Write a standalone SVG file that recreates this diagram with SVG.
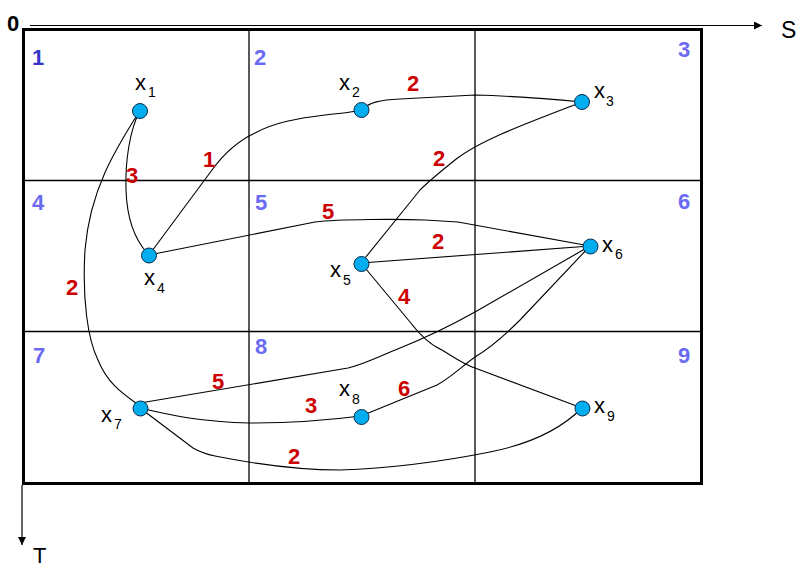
<svg xmlns="http://www.w3.org/2000/svg" width="798" height="567" viewBox="0 0 798 567">
<defs>
<marker id="arr" viewBox="0 0 10 10" refX="10" refY="5" markerWidth="8" markerHeight="8" markerUnits="userSpaceOnUse" orient="auto">
<path d="M0,0 L10,5 L0,10 z" fill="#000"/>
</marker>
<style>
.grid{stroke:#000;stroke-width:1.3;fill:none}
.frame{stroke:#000;stroke-width:3;fill:none}
.axis{stroke:#000;stroke-width:1.2;fill:none}
.edge{stroke:#000;stroke-width:1.1;fill:none}
.node{fill:#00AEEF;stroke:#0A2A4A;stroke-width:1}
.lx{font-family:"Liberation Sans",Arial,sans-serif;font-size:22px;fill:#000}
.ls{font-family:"Liberation Sans",Arial,sans-serif;font-size:14px;fill:#000}
.cell{font-family:"Liberation Sans",Arial,sans-serif;font-size:22px;font-weight:bold;fill:#6A6AF4}
.w{font-family:"Liberation Sans",Arial,sans-serif;font-size:22px;font-weight:bold;fill:#CC0000}
.ax{font-family:"Liberation Sans",Arial,sans-serif;font-size:23px;fill:#000}
</style>
</defs>
<rect width="798" height="567" fill="#fff"/>
<g id="grid">
<line class="grid" x1="249" y1="29" x2="249" y2="483"/>
<line class="grid" x1="475" y1="29" x2="475" y2="483"/>
<line class="grid" x1="23" y1="180.5" x2="702" y2="180.5"/>
<line class="grid" x1="23" y1="331.5" x2="702" y2="331.5"/>
<rect class="frame" x="23.5" y="29.5" width="678" height="454"/>
</g>
<g id="axes">
<line class="axis" x1="30" y1="25.5" x2="762" y2="25.5" marker-end="url(#arr)"/>
<line class="axis" x1="22" y1="485" x2="22" y2="545" marker-end="url(#arr)"/>
<text class="ax" x="7" y="31" style="font-weight:bold;font-size:22px">0</text>
<text class="ax" x="781" y="38">S</text>
<text class="ax" x="33" y="563" style="font-size:22px">T</text>
</g>
<g id="cells">
<text class="cell" x="32" y="65" style="fill:#3535C8">1</text>
<text class="cell" x="254" y="65">2</text>
<text class="cell" x="678" y="57">3</text>
<text class="cell" x="32" y="210">4</text>
<text class="cell" x="255" y="210">5</text>
<text class="cell" x="678" y="209">6</text>
<text class="cell" x="33" y="363">7</text>
<text class="cell" x="255" y="354">8</text>
<text class="cell" x="678" y="363">9</text>
</g>
<g id="connectors">
<path class="edge" d="M140,110 C130,130 125,160 126,190 C127,220 135,240 148,254"/>
<path class="edge" d="M139,112 C115,150 90,190 85,250 C82,300 88,340 98,360 C108,385 125,395 140,406"/>
<path class="edge" d="M149,255 L212,170 C225,152 240,140 255,133 C275,122 300,118 325,115 C340,113 350,113 361,110"/>
<path class="edge" d="M361,110 C370,102 380,100 400,99 L475,95 C510,96 550,99 582,102"/>
<path class="edge" d="M582,102 C530,122 480,140 455,160 C440,172 430,180 420,190 L361,263"/>
<path class="edge" d="M149,255 L315,222 C340,219 400,219 425,220 L458,222 L590,246"/>
<line class="edge" x1="361" y1="263" x2="590" y2="246"/>
<path class="edge" d="M361,263 L410,322 C420,335 430,345 442,350 C455,358 465,365 475,368 L582,408"/>
<path class="edge" d="M590,246 L475,312 C450,326 420,340 400,348 C380,356 365,364 348,368 L140,403"/>
<path class="edge" d="M590,246 L520,320 C505,335 490,348 475,357 C460,368 450,378 437,385 L361,416"/>
<path class="edge" d="M140,408 C170,415 200,422 250,423 C300,423 330,420 361,416"/>
<path class="edge" d="M140,408 L193,448 C200,452 205,454 215,456 C260,465 300,470 340,470 C400,468 450,460 490,452 C530,444 560,430 582,408"/>
</g>
<g id="weights">
<text class="w" x="407" y="91">2</text>
<text class="w" x="433" y="166">2</text>
<text class="w" x="203" y="167">1</text>
<text class="w" x="126" y="183">3</text>
<text class="w" x="66" y="295">2</text>
<text class="w" x="322" y="219">5</text>
<text class="w" x="432" y="249">2</text>
<text class="w" x="398" y="304">4</text>
<text class="w" x="212" y="389">5</text>
<text class="w" x="305" y="413">3</text>
<text class="w" x="288" y="464">2</text>
<text class="w" x="398" y="396">6</text>
</g>
<g id="x1"><circle class="node" cx="140" cy="111" r="7.5"/><text class="lx" x="135" y="90">x</text><text class="ls" x="148" y="97">1</text></g>
<g id="x2"><circle class="node" cx="361.5" cy="110" r="7.5"/><text class="lx" x="339" y="90">x</text><text class="ls" x="352" y="97">2</text></g>
<g id="x3"><circle class="node" cx="582" cy="102" r="7.5"/><text class="lx" x="594" y="98">x</text><text class="ls" x="606" y="106">3</text></g>
<g id="x4"><circle class="node" cx="149" cy="255.5" r="7.5"/><text class="lx" x="144" y="285">x</text><text class="ls" x="157" y="293">4</text></g>
<g id="x5"><circle class="node" cx="361.5" cy="264" r="7.5"/><text class="lx" x="330" y="277">x</text><text class="ls" x="343" y="285">5</text></g>
<g id="x6"><circle class="node" cx="590.5" cy="246.5" r="7.5"/><text class="lx" x="602" y="252">x</text><text class="ls" x="615" y="259">6</text></g>
<g id="x7"><circle class="node" cx="140.5" cy="408.5" r="7.5"/><text class="lx" x="101" y="422">x</text><text class="ls" x="114" y="429">7</text></g>
<g id="x8"><circle class="node" cx="361.5" cy="417" r="7.5"/><text class="lx" x="339" y="396">x</text><text class="ls" x="352" y="404">8</text></g>
<g id="x9"><circle class="node" cx="582.5" cy="408.5" r="7.5"/><text class="lx" x="594" y="413">x</text><text class="ls" x="607" y="421">9</text></g>
</svg>
